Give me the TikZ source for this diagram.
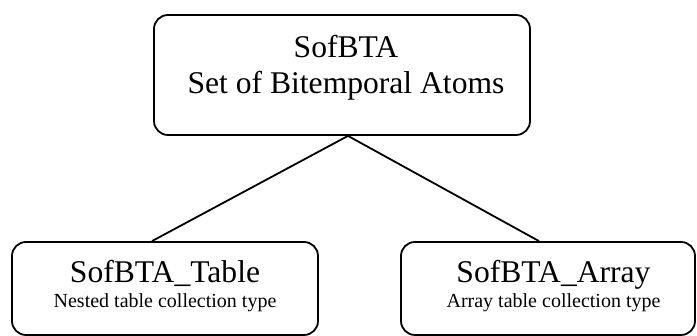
\documentclass[tikz,border=0pt]{standalone}
\usepackage{fontspec}
\setmainfont{Liberation Serif}
\begin{document}
\begin{tikzpicture}[x=1pt,y=1pt,
  box/.style={draw=black, line width=1.8pt, rounded corners=14pt, inner sep=0pt},
  big/.style={inner sep=0pt, anchor=base, font=\fontsize{31.6}{36}\selectfont},
  small/.style={inner sep=0pt, anchor=base, font=\fontsize{20}{24}\selectfont},
  link/.style={line width=1.8pt}]
\useasboundingbox (0,0) rectangle (697,336);
% boxes
\node[box, minimum width=376pt, minimum height=120pt] (top) at (342,261) {};
\node[box, minimum width=306pt, minimum height=93pt] (bl) at (165,47.5) {};
\node[box, minimum width=294pt, minimum height=93pt] (br) at (548,47.5) {};
% texts
\node[big] (t1) at (346,278) {SofBTA};
\node[big] (t2) at (346,242) {Set of Bitemporal Atoms};
\node[big] (l1) at (165,53) {SofBTA\_Table};
\node[small] (l2) at (165,28) {Nested table collection type};
\node[big] (r1) at (553.5,53) {SofBTA\_Array};
\node[small] (r2) at (553.5,28) {Array table collection type};
% connectors
\draw[link] ([xshift=6pt]top.south) -- ([xshift=-13pt]bl.north);
\draw[link] ([xshift=6pt]top.south) -- ([xshift=-9pt]br.north);
\end{tikzpicture}
\end{document}
